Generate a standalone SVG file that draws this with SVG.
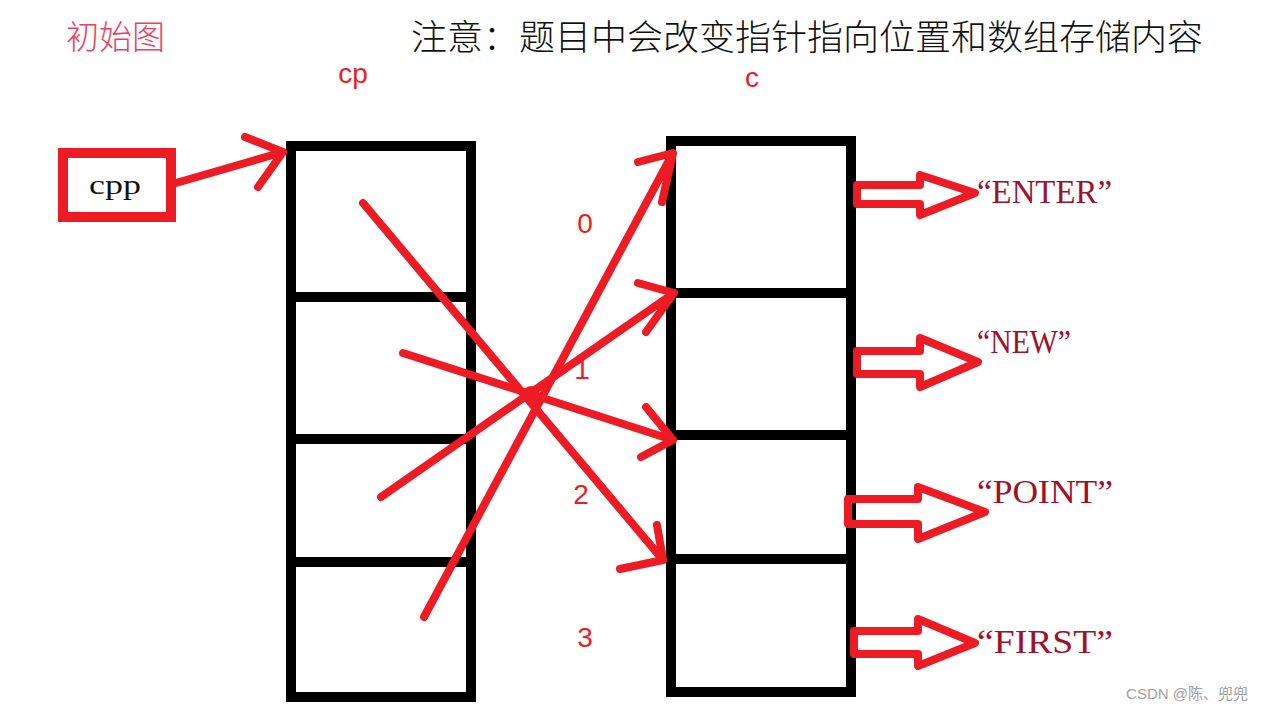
<svg xmlns="http://www.w3.org/2000/svg" width="1264" height="712" viewBox="0 0 1264 712">
<style>
.box{fill:none;stroke:#000;stroke-width:10}
.red{fill:none;stroke:#ed1c24;stroke-width:8;stroke-linecap:round;stroke-linejoin:round}
.hollow{fill:none;stroke:#ed1c24;stroke-width:8;stroke-linejoin:round}
.idx{font-family:"Liberation Sans",sans-serif;font-size:28px;fill:#ed1c24}
.str{font-family:"Liberation Serif",serif;font-size:34px;fill:#a0102a}
</style>
<rect width="1264" height="712" fill="#fff"/>
<g id="title">
<text x="66" y="49" font-family="Noto Sans CJK SC, sans-serif" font-size="33" fill="#f0405c" font-weight="300">初始图</text>
<text x="411" y="50" font-family="Noto Sans CJK SC, sans-serif" font-size="35" fill="#111" font-weight="300" textLength="792" lengthAdjust="spacingAndGlyphs">注意：题目中会改变指针指向位置和数组存储内容</text>
</g>
<g id="cpp">
<rect x="63" y="153" width="108" height="64" fill="none" stroke="#ed1c24" stroke-width="10"/>
<text x="115" y="194" text-anchor="middle" font-family="Liberation Serif, serif" font-size="28" fill="#111" textLength="52" lengthAdjust="spacingAndGlyphs">cpp</text>
</g>
<g id="cp">
<text x="353" y="83" text-anchor="middle" font-family="Liberation Sans, sans-serif" font-size="28" fill="#ed1c24">cp</text>
<rect class="box" x="291" y="146" width="180" height="551"/>
<line class="box" x1="291" y1="297" x2="471" y2="297"/>
<line class="box" x1="291" y1="439" x2="471" y2="439"/>
<line class="box" x1="291" y1="562" x2="471" y2="562"/>
</g>
<g id="c">
<text x="752" y="87" text-anchor="middle" font-family="Liberation Sans, sans-serif" font-size="28" fill="#ed1c24">c</text>
<rect class="box" x="671" y="141" width="180" height="551"/>
<line class="box" x1="671" y1="293" x2="851" y2="293"/>
<line class="box" x1="671" y1="435" x2="851" y2="435"/>
<line class="box" x1="671" y1="559" x2="851" y2="559"/>
</g>
<g id="indices">
<text class="idx" x="585" y="233" text-anchor="middle">0</text>
<text class="idx" x="582" y="379" text-anchor="middle">1</text>
<text class="idx" x="581" y="504" text-anchor="middle">2</text>
<text class="idx" x="585" y="647" text-anchor="middle">3</text>
</g>
<g id="strings">
<text class="str" x="977" y="203" textLength="135" lengthAdjust="spacingAndGlyphs">“ENTER”</text>
<text class="str" x="977" y="353" textLength="94" lengthAdjust="spacingAndGlyphs">“NEW”</text>
<text class="str" x="977" y="503" textLength="136" lengthAdjust="spacingAndGlyphs">“POINT”</text>
<text class="str" x="977" y="653" textLength="136" lengthAdjust="spacingAndGlyphs">“FIRST”</text>
</g>
<g id="connectors">
<path class="red" d="M176,183 L283,152 M245,137 L283,152 L258,187"/>
<path class="red" d="M363,203 L663,560 M657,525 L663,560 L620,569"/>
<path class="red" d="M403,353 L673,440 M641,457 L673,440 L646,407"/>
<path class="red" d="M381,497 L674,293 M638,283 L674,293 L646,332"/>
<path class="red" d="M424,617 L673,153 M638,162 L673,153 L662,202"/>
<circle cx="531" cy="395" r="9" fill="#ed1c24"/>
<polygon class="hollow" points="857,185 920,185 920,175 975,193 920,215 920,204 857,204"/>
<polygon class="hollow" points="857,351 920,351 920,338 978,362 920,387 920,374 857,374"/>
<polygon class="hollow" points="848,499 918,499 918,487 985,512 918,539 918,524 848,524"/>
<polygon class="hollow" points="854,631 918,631 918,619 975,643 918,666 918,654 854,654"/>
</g>
<text x="1248" y="699" text-anchor="end" font-family="Liberation Sans, Noto Sans CJK SC, sans-serif" font-size="15" fill="#a0a0a0">CSDN @陈、兜兜</text>
</svg>
